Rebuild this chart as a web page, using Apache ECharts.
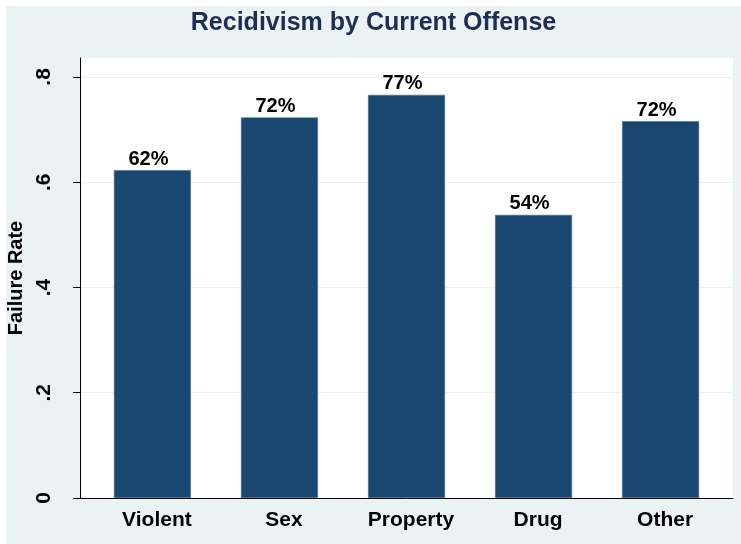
<!DOCTYPE html>
<html>
<head>
<meta charset="utf-8">
<script src="https://cdn.jsdelivr.net/npm/echarts@6/dist/echarts.min.js"></script>
<style>
  html, body { margin: 0; padding: 0; background: #ffffff; }
  #chart { position: absolute; left: 6px; top: 6px; width: 735px; height: 538px; background: #eaf2f3; }
</style>
</head>
<body>
<div id="chart"></div>
<script>
// offense categories and failure rates
const categories = ['Violent', 'Sex', 'Property', 'Drug', 'Other'];
const failureRates = [0.623, 0.723, 0.766, 0.538, 0.716];
const rateLabels = ['62%', '72%', '77%', '54%', '72%'];
const yTicks = [0, 0.2, 0.4, 0.6, 0.8];

const font = "'Liberation Sans', Arial, sans-serif";
const chart = echarts.init(document.getElementById('chart'));

const option = {
    animation: false,
    title: {
        text: 'Recidivism by Current Offense',
        left: 'center',
        top: 0,
        textStyle: {
            fontFamily: font,
            fontSize: 25,
            fontWeight: 'bold',
            color: '#1e2d55'
        }
    },
    grid: {
        left: 74,
        top: 52,
        right: 8,
        bottom: 46,
        outerBoundsMode: 'none',
        show: true,
        backgroundColor: '#ffffff',
        borderWidth: 0
    },
    xAxis: {
        type: 'value',
        min: -0.57,
        max: 4.57,
        splitLine: { show: false },
        axisTick: { show: false },
        axisLine: { show: true, lineStyle: { color: '#000000', width: 1 } },
        axisLabel: {
            customValues: [0, 1, 2, 3, 4],
            formatter: v => categories[Math.round(v)],
            margin: 12,
            padding: [0, 0, 0, 9],
            fontFamily: font,
            fontSize: 21,
            fontWeight: 'bold',
            color: '#000000'
        }
    },
    yAxis: {
        type: 'value',
        min: 0,
        max: 0.836,
        name: 'Failure Rate',
        nameLocation: 'middle',
        nameRotate: 90,
        nameGap: 54,
        nameTextStyle: {
            fontFamily: font,
            fontSize: 20,
            fontWeight: 'bold',
            color: '#000000'
        },
        axisLine: { show: true, onZero: false, lineStyle: { color: '#000000', width: 1 } },
        axisTick: {
            show: true,
            length: 7,
            customValues: yTicks,
            lineStyle: { color: '#000000' }
        },
        splitLine: { show: true, lineStyle: { color: '#eaf2f3', width: 1 } },
        axisLabel: {
            customValues: yTicks,
            rotate: 90,
            margin: 25,
            formatter: v => v === 0 ? '0' : v.toFixed(1).replace('0.', '.'),
            fontFamily: font,
            fontSize: 21,
            fontWeight: 'bold',
            color: '#000000'
        }
    },
    series: [{
        type: 'bar',
        barWidth: 77,
        data: categories.map((c, i) => [i, failureRates[i]]),
        itemStyle: {
            color: '#1a476f',
            borderColor: '#4a6f94',
            borderWidth: 0.6
        },
        label: {
            show: true,
            position: 'top',
            distance: 1,
            offset: [-4, 0],
            formatter: p => rateLabels[p.dataIndex],
            fontFamily: font,
            fontSize: 20,
            fontWeight: 'bold',
            color: '#000000'
        }
    }]
};

chart.setOption(option);
</script>
</body>
</html>
